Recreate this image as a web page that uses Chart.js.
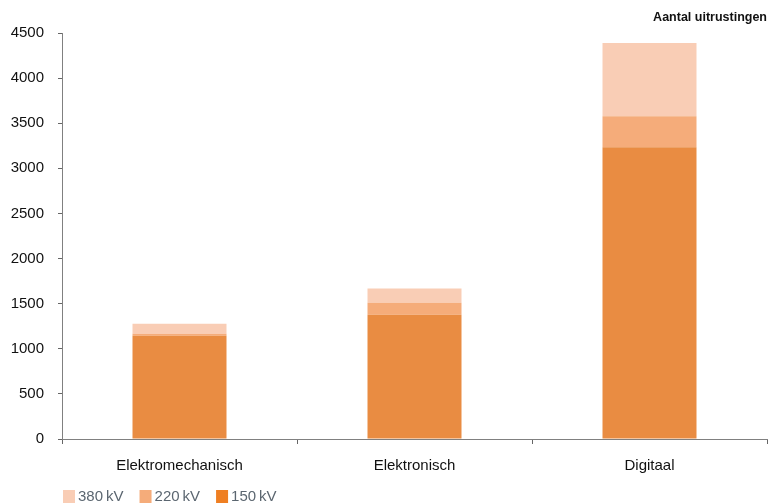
<!DOCTYPE html>
<html>
<head>
<meta charset="utf-8">
<script src="https://cdn.jsdelivr.net/npm/chart.js@4/dist/chart.umd.min.js"></script>
<style>
  html, body { margin: 0; padding: 0; background: #fff; }
  #wrap { width: 769px; height: 504px; position: relative; }
</style>
</head>
<body>
<div id="wrap"><canvas id="chart"></canvas></div>
<script>
// installaties per technologie, gestapeld per spanningsniveau
const categories = ['Elektromechanisch', 'Elektronisch', 'Digitaal'];
const kv150 = [1145, 1378, 3233];
const kv220 = [22, 133, 345];
const kv380 = [111, 156, 811];
const yTicks = [0, 500, 1000, 1500, 2000, 2500, 3000, 3500, 4000, 4500];

const FONT = "'Liberation Sans Narrow', 'Arial Narrow', 'Liberation Sans', sans-serif";
const dotted = '#808080';
const legendFills = ['#f9cdb5', '#f5ac7a', '#ef7f22'];

// legende linksonder, onder de as
const bottomLegend = {
  id: 'bottomLegend',
  afterDraw(chart) {
    const c = chart.ctx;
    const y = 490;
    let x = chart.chartArea.left + 1;
    c.save();
    c.font = '15px ' + FONT;
    c.textBaseline = 'middle';
    chart.data.datasets.forEach((ds, i) => {
      c.fillStyle = legendFills[i];
      c.fillRect(x, y, 12, 13);
      x += 15;
      c.fillStyle = '#5b6670';
      c.fillText(ds.label, x, y + 7);
      x += c.measureText(ds.label).width + 16;
    });
    c.restore();
  }
};

const ctx = document.getElementById('chart').getContext('2d');
new Chart(ctx, {
  type: 'bar',
  data: {
    labels: categories,
    datasets: [
      { label: '380\u2009kV', data: kv380, backgroundColor: '#f9cdb5', order: 3 },
      { label: '220\u2009kV', data: kv220, backgroundColor: '#f5ac7a', order: 2 },
      { label: '150\u2009kV', data: kv150, backgroundColor: '#e98c42', order: 1 }
    ]
  },
  plugins: [bottomLegend],
  options: {
    responsive: true,
    maintainAspectRatio: false,
    animation: false,
    datasets: { bar: { categoryPercentage: 0.4, barPercentage: 1, borderWidth: 0 } },
    layout: { padding: { left: 0, right: 2, top: 0, bottom: 16 } },
    plugins: {
      title: {
        display: true,
        text: 'Aantal uitrustingen',
        align: 'end',
        color: '#111',
        font: { family: FONT, size: 12.5, weight: 'bold' },
        padding: { top: 10, bottom: 8 }
      },
      legend: { display: false },
      tooltip: { enabled: false }
    },
    scales: {
      x: {
        stacked: true,
        border: { display: true, color: dotted, dash: [1, 2], width: 1 },
        grid: { display: true, offset: true, drawOnChartArea: false, drawTicks: true, tickLength: 5, color: '#666' },
        ticks: { color: '#111', font: { family: FONT, size: 15 }, padding: 13 }
      },
      y: {
        stacked: true,
        min: 0,
        max: 4500,
        afterBuildTicks(scale) { scale.ticks = yTicks.map(v => ({ value: v })); },
        afterFit(scale) { scale.width = 62; },
        border: { display: true, color: dotted, dash: [1, 2], width: 1 },
        grid: { display: true, drawOnChartArea: false, drawTicks: true, tickLength: 4, color: '#666' },
        ticks: {
          color: '#111',
          font: { family: FONT, size: 15 },
          padding: 14,
          callback: v => String(v)
        }
      }
    }
  }
});
</script>
</body>
</html>
